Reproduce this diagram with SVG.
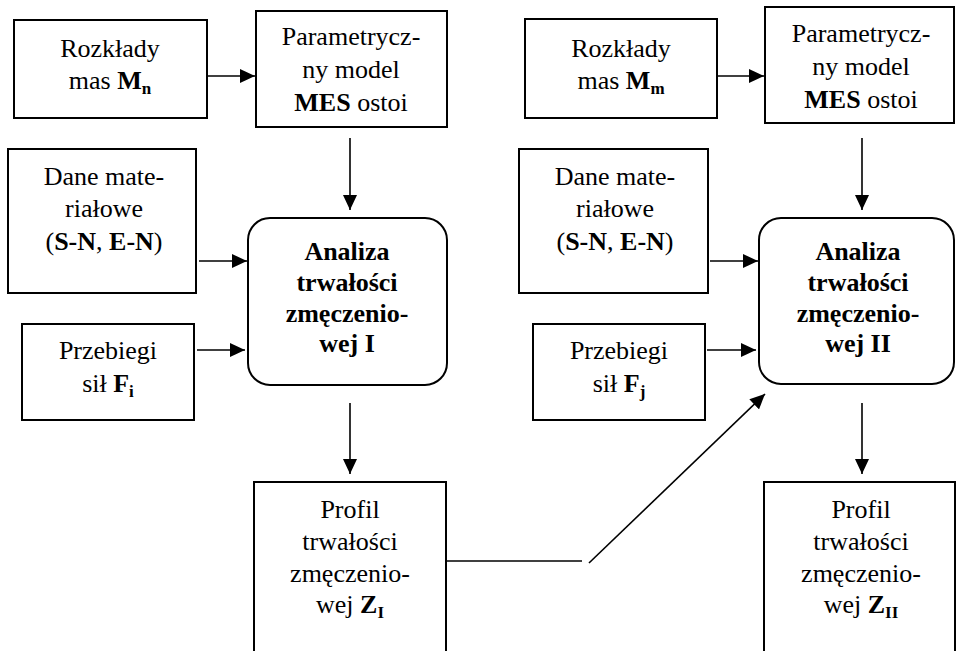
<svg xmlns="http://www.w3.org/2000/svg" width="956" height="651" viewBox="0 0 956 651" font-family="'Liberation Serif', 'Times New Roman', serif">
<defs>
<style>
.box{fill:#fff;stroke:#000;stroke-width:2}
.ln{fill:none;stroke:#000;stroke-width:1.6}
.t{font-family:'Liberation Serif', 'Times New Roman', serif;font-size:26px;fill:#000;text-anchor:middle}
.b{font-weight:bold}
.sub{font-size:17px;font-weight:bold}
</style>
<marker id="ah" viewBox="0 0 15 14" refX="15" refY="7" markerWidth="15" markerHeight="14" markerUnits="userSpaceOnUse" orient="auto">
<path d="M0,0 L15,7 L0,14 z" fill="#000"/>
</marker>
</defs>
<rect width="956" height="651" fill="#fff"/>

<g id="rozklady1">
<rect class="box" x="14" y="20" width="193" height="98"/>
<text class="t" x="110" y="57">Rozkłady</text>
<text class="t" x="110" y="89">mas <tspan class="b">M</tspan><tspan class="sub" dy="5">n</tspan></text>
</g>
<g id="param1">
<rect class="box" x="256" y="11" width="191" height="116"/>
<text class="t" x="351" y="45">Parametrycz-</text>
<text class="t" x="351" y="78">ny model</text>
<text class="t" x="351" y="111"><tspan class="b">MES</tspan> ostoi</text>
</g>
<g id="dane1">
<rect class="box" x="8" y="149" width="188" height="144"/>
<text class="t" x="104" y="185">Dane mate-</text>
<text class="t" x="104" y="217">riałowe</text>
<text class="t" x="104" y="250">(<tspan class="b">S-N</tspan>, <tspan class="b">E-N</tspan>)</text>
</g>
<g id="analiza1">
<rect class="box" x="248" y="218" width="199" height="167" rx="22"/>
<text class="t b" x="347" y="260">Analiza</text>
<text class="t b" x="347" y="291">trwałości</text>
<text class="t b" x="347" y="322">zmęczenio-</text>
<text class="t b" x="347" y="352">wej I</text>
</g>
<g id="przebiegi1">
<rect class="box" x="22" y="324" width="172" height="96"/>
<text class="t" x="108" y="359">Przebiegi</text>
<text class="t" x="108" y="392">sił <tspan class="b">F</tspan><tspan class="sub" dy="5">i</tspan></text>
</g>
<g id="profil1">
<rect class="box" x="254" y="482" width="192" height="190"/>
<text class="t" x="350" y="518">Profil</text>
<text class="t" x="350" y="550">trwałości</text>
<text class="t" x="350" y="582">zmęczenio-</text>
<text class="t" x="350" y="613">wej <tspan class="b">Z</tspan><tspan class="sub" dy="5">I</tspan></text>
</g>

<g id="rozklady2">
<rect class="box" x="525" y="19" width="192" height="99"/>
<text class="t" x="621" y="57">Rozkłady</text>
<text class="t" x="621" y="89">mas <tspan class="b">M</tspan><tspan class="sub" dy="5">m</tspan></text>
</g>
<g id="param2">
<rect class="box" x="765" y="7" width="189" height="116"/>
<text class="t" x="861" y="42">Parametrycz-</text>
<text class="t" x="861" y="75">ny model</text>
<text class="t" x="861" y="108"><tspan class="b">MES</tspan> ostoi</text>
</g>
<g id="dane2">
<rect class="box" x="519" y="149" width="189" height="144"/>
<text class="t" x="615" y="185">Dane mate-</text>
<text class="t" x="615" y="217">riałowe</text>
<text class="t" x="615" y="250">(<tspan class="b">S-N</tspan>, <tspan class="b">E-N</tspan>)</text>
</g>
<g id="analiza2">
<rect class="box" x="759" y="218" width="195" height="166" rx="22"/>
<text class="t b" x="858" y="260">Analiza</text>
<text class="t b" x="858" y="291">trwałości</text>
<text class="t b" x="858" y="322">zmęczenio-</text>
<text class="t b" x="858" y="352">wej II</text>
</g>
<g id="przebiegi2">
<rect class="box" x="533" y="324" width="172" height="96"/>
<text class="t" x="619" y="359">Przebiegi</text>
<text class="t" x="619" y="392">sił <tspan class="b">F</tspan><tspan class="sub" dy="5">j</tspan></text>
</g>
<g id="profil2">
<rect class="box" x="764" y="482" width="191" height="190"/>
<text class="t" x="861" y="518">Profil</text>
<text class="t" x="861" y="550">trwałości</text>
<text class="t" x="861" y="582">zmęczenio-</text>
<text class="t" x="861" y="613">wej <tspan class="b">Z</tspan><tspan class="sub" dy="5">II</tspan></text>
</g>

<g id="connectors">
<line class="ln" x1="207" y1="76" x2="255" y2="76" marker-end="url(#ah)"/>
<line class="ln" x1="350" y1="138" x2="350" y2="210" marker-end="url(#ah)"/>
<line class="ln" x1="199" y1="261" x2="247" y2="261" marker-end="url(#ah)"/>
<line class="ln" x1="197" y1="350" x2="245" y2="350" marker-end="url(#ah)"/>
<line class="ln" x1="350" y1="403" x2="350" y2="474" marker-end="url(#ah)"/>
<line class="ln" x1="446" y1="561" x2="582" y2="561"/>
<line class="ln" x1="589" y1="563" x2="765" y2="394" marker-end="url(#ah)"/>
<line class="ln" x1="717" y1="76" x2="764" y2="76" marker-end="url(#ah)"/>
<line class="ln" x1="862" y1="138" x2="862" y2="210" marker-end="url(#ah)"/>
<line class="ln" x1="710" y1="261" x2="758" y2="261" marker-end="url(#ah)"/>
<line class="ln" x1="707" y1="350" x2="756" y2="350" marker-end="url(#ah)"/>
<line class="ln" x1="862" y1="403" x2="862" y2="474" marker-end="url(#ah)"/>
</g>
</svg>
